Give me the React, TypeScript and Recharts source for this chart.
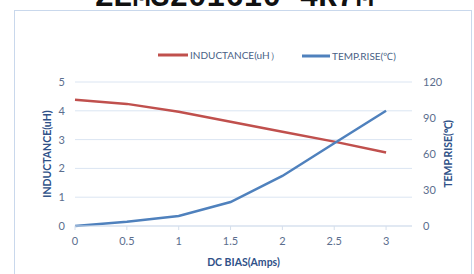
import { CartesianGrid, Label, Line, LineChart, XAxis, YAxis } from "recharts";

const dcBias = [0, 0.5, 1, 1.5, 2, 2.5, 3];
const inductance = [4.38, 4.24, 3.97, 3.62, 3.27, 2.93, 2.55];
const tempRise = [0, 3.6, 8.3, 20, 41.7, 69, 96];

const xTicks = [0, 0.5, 1, 1.5, 2, 2.5, 3];
const leftTicks = [0, 1, 2, 3, 4, 5];
const rightTicks = [0, 30, 60, 90, 120];

const data = dcBias.map((x, i) => ({ x, L: inductance[i], T: tempRise[i] }));

const FONT = "Lato, 'Open Sans', sans-serif";
const tickStyle = { fill: "#5b6e8e", fontSize: 11, fontFamily: FONT };
const titleStyle = { fill: "#2f5188", fontSize: 10.5, fontWeight: 700, fontFamily: FONT };

export default function App() {
  return (
    <div
      style={{
        position: "fixed",
        left: 0,
        top: 0,
        width: 474,
        height: 274,
        background: "#fff",
        overflow: "hidden",
      }}
    >
      <svg width={474} height={274} style={{ position: "absolute", left: 0, top: 0 }}>
        <rect x={14.5} y={10.5} width={457} height={280} fill="none" stroke="#c9d8ec" />
        <text
          x={95}
          y={6}
          fontFamily="'Liberation Mono', 'DejaVu Sans Mono', monospace"
          fontWeight={700}
          fontSize={31}
          fill="#111"
        >
          ZEMS201610-4R7M
        </text>
      </svg>
      <div style={{ position: "absolute", left: 0, top: 0 }}>
        <LineChart width={474} height={274} data={data} margin={{ top: 82, right: 0, bottom: 0, left: 0 }}>
          <CartesianGrid vertical={false} stroke="#dbe5f2" yAxisId="left" />
          <XAxis
            dataKey="x"
            type="number"
            domain={[0, 3.25]}
            ticks={xTicks}
            height={48}
            stroke="#d5dfec"
            tickSize={4}
            tickMargin={7}
            tick={tickStyle}
          >
            <Label value="DC BIAS(Amps)" position="center" dy={12} style={titleStyle} />
          </XAxis>
          <YAxis
            yAxisId="left"
            domain={[0, 5]}
            ticks={leftTicks}
            width={75}
            axisLine={false}
            tickLine={false}
            tickSize={0}
            tickMargin={10}
            tick={tickStyle}
          >
            <Label value="INDUCTANCE(uH)" angle={-90} position="center" dx={10} style={titleStyle} />
          </YAxis>
          <YAxis
            yAxisId="right"
            orientation="right"
            domain={[0, 120]}
            ticks={rightTicks}
            width={62}
            axisLine={false}
            tickLine={false}
            tickSize={0}
            tickMargin={11}
            tick={{ ...tickStyle, textAnchor: "start" }}
          >
            <Label value="TEMP.RISE(℃)" angle={-90} position="center" dx={5} style={titleStyle} />
          </YAxis>
          <Line
            yAxisId="left"
            dataKey="L"
            stroke="#c0504d"
            strokeWidth={2.5}
            dot={false}
            isAnimationActive={false}
          />
          <Line
            yAxisId="right"
            dataKey="T"
            stroke="#4f81bd"
            strokeWidth={2.5}
            dot={false}
            isAnimationActive={false}
          />
        </LineChart>
      </div>
      <svg width={474} height={274} style={{ position: "absolute", left: 0, top: 0, pointerEvents: "none" }}>
        <line x1={158} y1={55} x2={188} y2={55} stroke="#c0504d" strokeWidth={3} />
        <text x={190} y={59} fontFamily={FONT} fontSize={10} fill="#4a5f86">
          INDUCTANCE(uH）
        </text>
        <line x1={302} y1={56} x2={330} y2={56} stroke="#4f81bd" strokeWidth={3} />
        <text x={332} y={60} fontFamily={FONT} fontSize={10} fill="#4a5f86">
          TEMP.RISE(℃)
        </text>
      </svg>
    </div>
  );
}
